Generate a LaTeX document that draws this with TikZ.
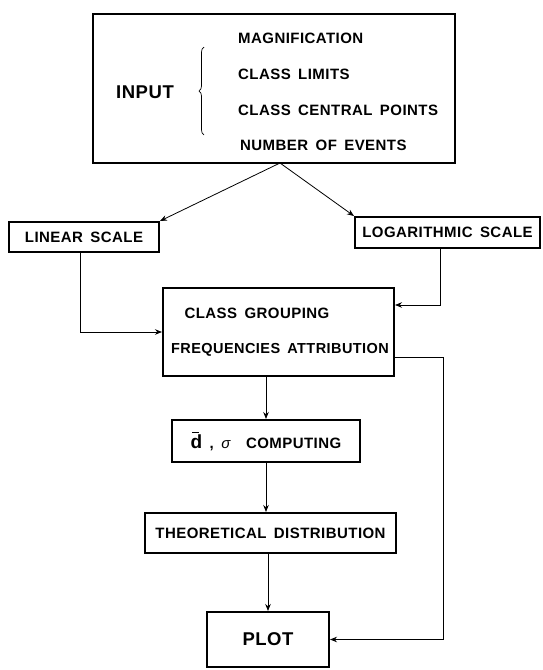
\documentclass[tikz,border=0pt]{standalone}
\usepackage{fontspec}
\setmainfont{Liberation Sans}[LetterSpace=3,WordSpace=1.6]
\usetikzlibrary{arrows.meta,calc,decorations.pathreplacing}

\begin{document}
\begin{tikzpicture}[x=1pt,y=-1pt,
        box/.style={draw,line width=2pt,inner sep=0pt},
        lbl/.style={font=\fontsize{15}{18}\selectfont\bfseries,inner sep=0pt},
        big/.style={font=\fontsize{18.5}{21}\selectfont\bfseries,inner sep=0pt},
        arr/.style={line width=0.8pt,-{Stealth[length=7pt,width=5.5pt]}}]
    	        \useasboundingbox (0,0) rectangle (543,670);
    	        % Input
    	        \node[box,minimum width=362pt,minimum height=149pt] (input) at (274,88.5) {};
    	        \node[big] (intext) at (145,92) {INPUT};
    	        \draw[line width=0.7pt,decorate,decoration={brace,amplitude=5pt}] (204,135) -- (204,47);
    	        \node[lbl,anchor=west] (magn) at (238,38) {MAGNIFICATION};
    	        \node[lbl,anchor=west] (limits) at (238,74) {CLASS LIMITS};
    	        \node[lbl,anchor=west] (central) at (238,110) {CLASS CENTRAL POINTS};
    	        \node[lbl,anchor=west] (events) at (240,145) {NUMBER OF EVENTS};
    	        % Scales
    	        \node[box,lbl,minimum width=150pt,minimum height=30pt] (linear) at (84,237) {LINEAR SCALE};
    	        \node[box,lbl,minimum width=185pt,minimum height=31pt] (log) at (447.5,232.5) {LOGARITHMIC SCALE};
    	        \coordinate (apex) at (280,163);
    	        \draw[arr] (apex) -- (linear.north east);
    	        \draw[arr] (apex) -- (log.north west);
    	        % Class grouping
    	        \node[box,minimum width=231pt,minimum height=88pt] (class) at (278.5,332) {};
    	        \node[lbl] (grouping) at (257,313) {CLASS GROUPING};
    	        \node[lbl,font=\fontsize{14.5}{17}\selectfont\bfseries] (freq) at (280,350) {FREQUENCIES ATTRIBUTION};
    	        \draw[arr] ([xshift=-4pt]linear.south) |- (class.west);
    	        \draw[arr] ([xshift=-7pt]log.south) |- ($(class.north east)!0.2!(class.south east)$);
    	        % Computing, distribution, plot
    	        \node[box,lbl,minimum width=188pt,minimum height=42pt] (comp) at (266,441)
    	            {{\fontsize{19}{20}\selectfont d\llap{\rule[15.5pt]{7pt}{1pt}\hspace{3pt}}}\ , \textit{\mdseries σ}\ \ COMPUTING};
    	        \node[box,lbl,minimum width=251pt,minimum height=40pt] (theo) at (270.5,533) {THEORETICAL DISTRIBUTION};
    	        \node[box,big,minimum width=122pt,minimum height=55pt] (plot) at (268,639.5) {PLOT};
    	        \draw[arr] (comp.north |- class.south) -- (comp.north);
    	        \draw[arr] (comp.south) -- (comp.south |- theo.north);
    	        \draw[arr] (theo.south -| plot.north) -- (plot.north);
    	        % Direct to plot
    	        \draw[arr] ($(class.north east)!0.78!(class.south east)$) -- ++(48,0) |- (plot.east);
    	    \end{tikzpicture}
\end{document}
